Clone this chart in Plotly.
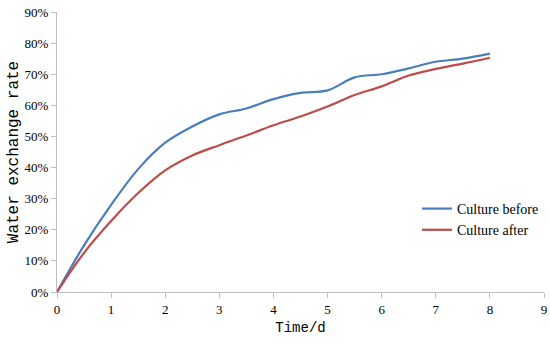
import plotly.graph_objects as go

days = [0, 0.5, 1, 1.5, 2, 2.5, 3, 3.5, 4, 4.5, 5, 5.5, 6, 6.5, 7, 7.5, 8]
culture_before = [0, 15.0, 28.0, 39.5, 48.0, 53.2, 57.1, 59.0, 62.0, 64.0, 64.8, 69.0, 70.0, 71.9, 74.0, 75.0, 76.6]
culture_after = [0, 12.6, 22.8, 31.8, 39.1, 43.9, 47.2, 50.3, 53.6, 56.4, 59.6, 63.3, 66.1, 69.6, 71.7, 73.4, 75.3]

x_ticks = list(range(0, 10))
y_ticks = list(range(0, 100, 10))
y_tick_labels = [f"{v}%" for v in y_ticks]

fig = go.Figure()
fig.add_trace(go.Scatter(x=days, y=culture_before, mode="lines", name="Culture before",
                         line=dict(color="#4a7ebb", width=2.2, shape="spline", smoothing=1.0)))
fig.add_trace(go.Scatter(x=days, y=culture_after, mode="lines", name="Culture after",
                         line=dict(color="#be4b48", width=2.2, shape="spline", smoothing=1.0)))

fig.update_layout(
    width=550, height=344,
    margin=dict(l=57, r=6, t=12, b=52),
    paper_bgcolor="white", plot_bgcolor="white",
    font=dict(family="Liberation Serif", size=13, color="#000000"),
    legend=dict(x=1.0, y=0.259, xanchor="right", yanchor="middle",
                font=dict(family="Liberation Serif", size=14), bgcolor="rgba(0,0,0,0)",
                tracegroupgap=0, itemwidth=30),
    showlegend=True,
)
fig.update_xaxes(range=[0, 9], tickvals=x_ticks, ticktext=[str(v) for v in x_ticks],
                 showgrid=False, zeroline=False, showline=True, linecolor="#bfbfbf", linewidth=1,
                 ticks="outside", ticklen=5, tickcolor="#bfbfbf", automargin=False,
                 ticklabeloverflow="allow",
                 title=dict(text="Time/d", font=dict(family="Liberation Mono", size=14), standoff=6))
fig.update_yaxes(range=[0, 90], tickvals=y_ticks, ticktext=y_tick_labels,
                 showgrid=False, zeroline=False, showline=True, linecolor="#bfbfbf", linewidth=1,
                 ticks="outside", ticklen=5, tickcolor="#bfbfbf", automargin=False,
                 ticklabeloverflow="allow",
                 title=dict(text="Water exchange rate", font=dict(family="Liberation Mono", size=16), standoff=1))

fig.write_html("out.html", config={"displayModeBar": False},
               post_script="document.body.style.margin='0px';")
